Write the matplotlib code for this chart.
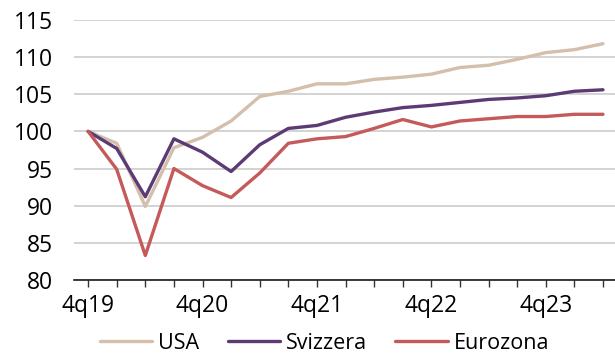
import matplotlib.pyplot as plt
import numpy as np

# trimestri dal 4q19 al 2q24, indice 4q19 = 100
trimestri = ["4q19", "1q20", "2q20", "3q20", "4q20", "1q21", "2q21", "3q21", "4q21",
             "1q22", "2q22", "3q22", "4q22", "1q23", "2q23", "3q23", "4q23", "1q24", "2q24"]
usa = [100, 98.4, 89.9, 97.8, 99.2, 101.4, 104.7, 105.4, 106.4, 106.4,
       107.0, 107.3, 107.7, 108.6, 108.9, 109.7, 110.6, 111.0, 111.8]
svizzera = [100, 97.7, 91.2, 99.0, 97.2, 94.6, 98.2, 100.4, 100.8, 101.9,
            102.6, 103.2, 103.5, 103.9, 104.3, 104.5, 104.8, 105.4, 105.6]
eurozona = [100, 94.9, 83.3, 95.0, 92.7, 91.1, 94.4, 98.4, 99.0, 99.3,
            100.4, 101.6, 100.6, 101.4, 101.7, 102.0, 102.0, 102.3, 102.3]

plt.rcParams["font.family"] = ["Open Sans", "DejaVu Sans"]
plt.rcParams["font.size"] = 15.5

fig = plt.figure(figsize=(6.15, 3.56), dpi=100)
ax = fig.add_axes([0.12, 0.2135, 0.88, 0.7305])

x = np.arange(len(trimestri))
ax.plot(x, usa, color="#D3BFAB", lw=2.4, label="USA", solid_capstyle="round")
ax.plot(x, svizzera, color="#5C3B74", lw=2.4, label="Svizzera", solid_capstyle="round")
ax.plot(x, eurozona, color="#C55A5A", lw=2.4, label="Eurozona", solid_capstyle="round")

ax.set_ylim(80, 115)
ax.set_yticks(np.arange(80, 116, 5))
ax.set_xlim(-0.5, 18.42)
ax.set_xticks(x)
ax.set_xticklabels([t if i % 4 == 0 else "" for i, t in enumerate(trimestri)])

ax.grid(axis="y", color="#C8C8C8", lw=1.1)
ax.set_axisbelow(True)
for s in ["top", "right", "left"]:
    ax.spines[s].set_visible(False)
ax.spines["bottom"].set_color("#1a1a1a")
ax.spines["bottom"].set_linewidth(1.2)
ax.tick_params(axis="y", length=0, pad=15, labelsize=16.5)
ax.tick_params(axis="x", length=5, width=1, color="#333333", pad=5, labelsize=16.5)

fig.legend(loc="center left", bbox_to_anchor=(0.162, 0.036), ncol=3, frameon=False,
           handlelength=2.45, handletextpad=0.28, columnspacing=1.3, borderpad=0,
           borderaxespad=0)

fig.savefig("out.png", dpi=100)
